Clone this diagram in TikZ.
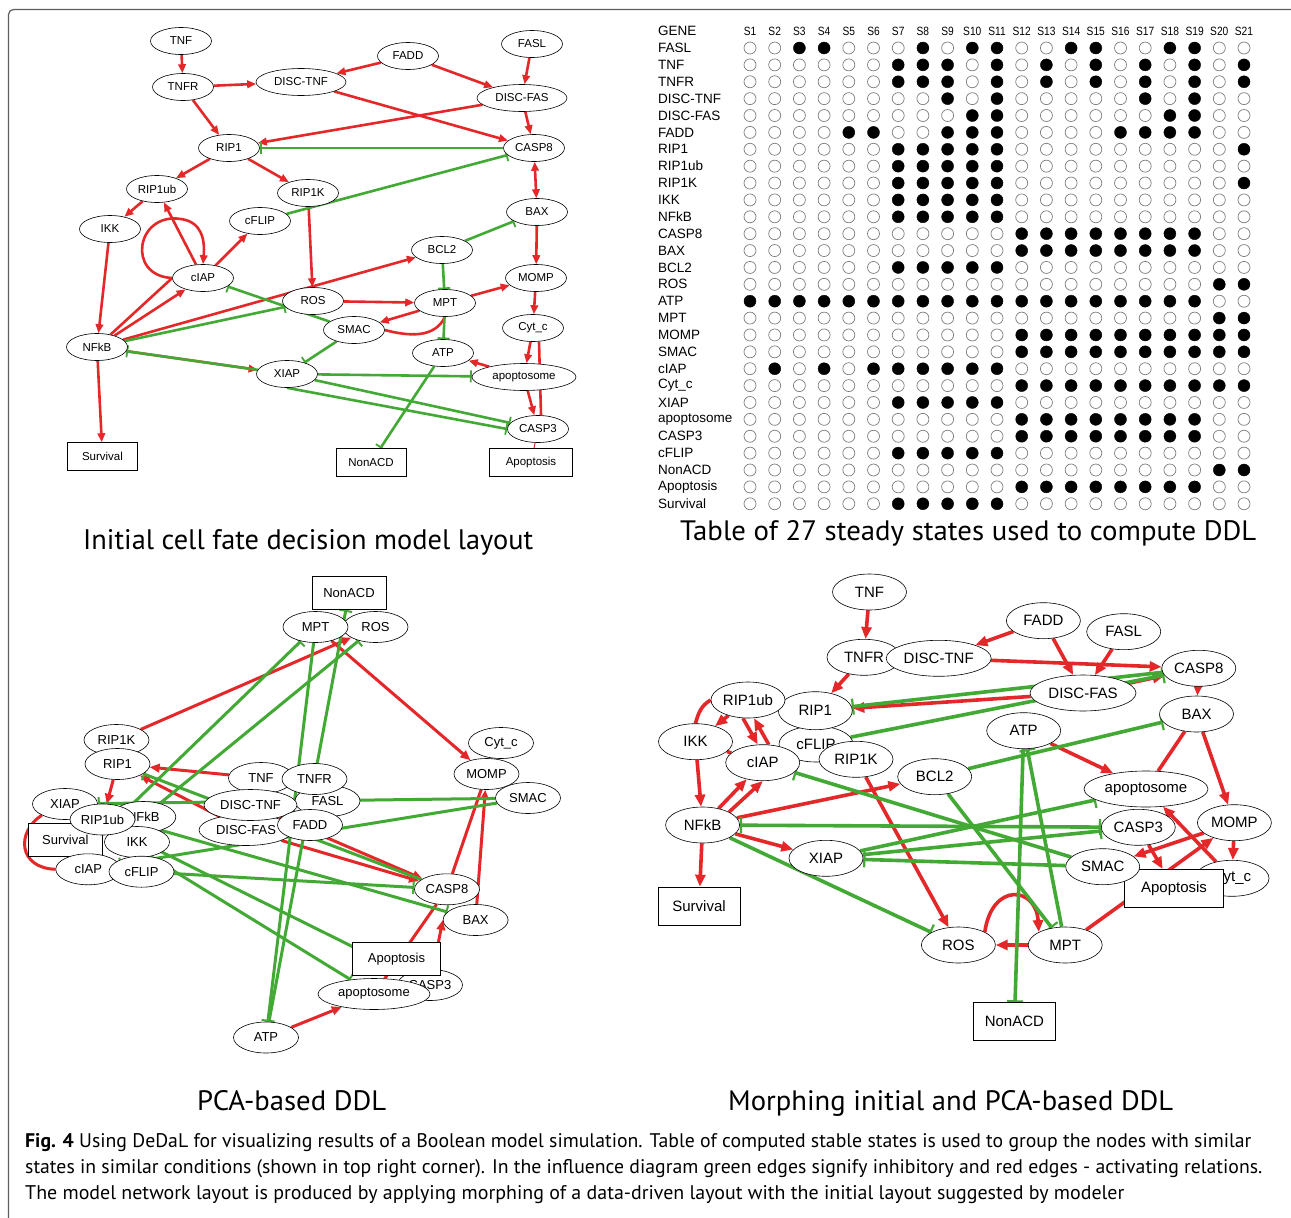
\documentclass[tikz,border=0pt]{standalone}
\usepackage{fontspec}
\usepackage{graphicx}
\setsansfont{Liberation Sans}
\newfontfamily\capfont{PT Sans}
\newfontfamily\tabfont{Liberation Sans}
\newfontfamily\hdfont[FakeStretch=0.85]{Liberation Sans}
\usetikzlibrary{arrows.meta,shapes.geometric}
\definecolor{actred}{RGB}{228,40,42}
\definecolor{inhgreen}{RGB}{66,170,52}
\definecolor{framegray}{RGB}{95,95,95}
\definecolor{dotgray}{RGB}{125,125,125}
\pgfdeclarelayer{bg}
\pgfsetlayers{bg,main}
\tikzset{
  ga/.style={ellipse,draw,fill=white,inner sep=0pt,line width=.6pt,minimum width=61pt,minimum height=27pt,font=\sffamily\fontsize{11.5}{12}\selectfont},
  gb/.style={ga,minimum width=65pt,minimum height=31pt,font=\sffamily\fontsize{13}{14}\selectfont},
  gc/.style={ga,minimum width=74pt,minimum height=36pt,font=\sffamily\fontsize{15}{16}\selectfont},
  boxa/.style={rectangle,draw,fill=white,inner sep=0pt,line width=.6pt,minimum width=70pt,minimum height=28pt,font=\sffamily\fontsize{11.5}{12}\selectfont},
  boxb/.style={boxa,minimum height=33pt,font=\sffamily\fontsize{13}{14}\selectfont},
  boxc/.style={boxa,minimum height=38pt,font=\sffamily\fontsize{15}{16}\selectfont},
  act/.style={draw=actred,line width=2.6pt,-{Triangle[length=9pt,width=7.5pt]}},
  actb/.style={draw=actred,line width=3pt,-{Triangle[length=10pt,width=8.5pt]}},
  actc/.style={draw=actred,line width=3.6pt,-{Triangle[length=12pt,width=10pt]}},
  inh/.style={draw=inhgreen,line width=2.6pt,-{Bar[width=12pt,line width=1.8pt]}},
  inhb/.style={draw=inhgreen,line width=3pt,-{Bar[width=13pt,line width=2pt]}},
  inhc/.style={draw=inhgreen,line width=3.6pt,-{Bar[width=16pt,line width=2.2pt]}},
  redp/.style={draw=actred},
  hd/.style={inner sep=0pt,font=\hdfont\fontsize{12}{12}\selectfont},
  lab/.style={anchor=west,inner sep=0pt,font=\tabfont\fontsize{13.5}{14}\selectfont},
  dot0/.style={draw=dotgray,line width=.7pt},
  dot1/.style={fill=black},
  ttl/.style={anchor=base west,inner sep=0pt}
}
\begin{document}
\begin{tikzpicture}[x=1pt,y=-1pt]
\useasboundingbox (0,0) rectangle (1291,1218);
\begin{pgfonlayer}{bg}
\fill[white] (0,0) rectangle (1291,1218);
\end{pgfonlayer}
\draw[framegray,line width=1.2pt,rounded corners=5pt] (8.5,1218) -- (8.5,9.5) -- (1291,9.5);

% initial layout
\node[ga] (aTNF) at (181,41) {TNF};
\node[ga] (aTNFR) at (183,87) {TNFR};
\node[ga,minimum width=90pt] (aDT) at (301,82) {DISC-TNF};
\node[ga] (aFADD) at (408,56) {FADD};
\node[ga] (aFASL) at (532,44) {FASL};
\node[ga,minimum width=90pt] (aDF) at (522,98) {DISC-FAS};
\node[ga] (aRIP1) at (229,148) {RIP1};
\node[ga] (aCASP8) at (534,148) {CASP8};
\node[ga] (aRIP1ub) at (157,189) {RIP1ub};
\node[ga] (aRIP1K) at (308,193) {RIP1K};
\node[ga] (aCFLIP) at (260,221) {cFLIP};
\node[ga] (aBAX) at (537,212) {BAX};
\node[ga] (aIKK) at (110,229) {IKK};
\node[ga] (aBCL2) at (442,250) {BCL2};
\node[ga] (aCIAP) at (203,278) {cIAP};
\node[ga] (aMOMP) at (536,278) {MOMP};
\node[ga] (aROS) at (313,301) {ROS};
\node[ga] (aMPT) at (445,303) {MPT};
\node[ga] (aSMAC) at (354,330) {SMAC};
\node[ga] (aCytc) at (533,328) {Cyt\_c};
\node[ga] (aNFkB) at (97,347) {NFkB};
\node[ga] (aATP) at (443,353) {ATP};
\node[ga] (aXIAP) at (287,374) {XIAP};
\node[ga,minimum width=104pt] (aApo) at (524,377) {apoptosome};
\node[ga] (aCASP3) at (538,429) {CASP3};
\node[boxa] (aSurv) at (102.5,456.5) {Survival};
\node[boxa] (aNonACD) at (371,462.5) {NonACD};
\node[boxa,minimum width=83pt] (aApopt) at (531,462.5) {Apoptosis};

\begin{pgfonlayer}{bg}
\draw[act] (aTNF) -- (aTNFR);
\draw[act] (aTNFR) -- (aDT);
\draw[act] (aTNFR) -- (aRIP1);
\draw[act] (aFADD) -- (aDT);
\draw[act] (aFADD) -- (aDF);
\draw[act] (aFASL) -- (aDF);
\draw[act] (aDT) -- (aCASP8);
\draw[act] (aDF) -- (aRIP1);
\draw[act] (aDF) -- (aCASP8);
\draw[act] (aRIP1) -- (aRIP1ub);
\draw[act] (aRIP1) -- (aRIP1K);
\draw[act] (aRIP1ub) -- (aIKK);
\draw[act,{Triangle[length=9pt,width=7.5pt]}-{Triangle[length=9pt,width=7.5pt]}] (aCASP8) -- (aBAX);
\draw[act] (aIKK) -- (aNFkB);
\draw[act] (aCIAP) -- (aRIP1ub);
\draw[act] (aCIAP.west) .. controls (126,276) and (136,212) .. (181,219) .. controls (202,222) and (205,240) .. (aCIAP.north);
\draw[act] (aCIAP) -- (aCFLIP);
\draw[act] (aNFkB) -- (aCIAP);
\draw[redp,line width=2.6pt] (aNFkB) -- (aCIAP.west);
\draw[act] (aNFkB) -- (aBCL2);
\draw[act] (aNFkB) -- (aXIAP);
\draw[act] (aNFkB) -- (aSurv);
\draw[act] (aRIP1K) -- (aROS);
\draw[act] (aROS) -- (aMPT);
\draw[act] (aMPT) -- (aSMAC);
\draw[redp,line width=2.6pt] (aSMAC.east) to[out=-15,in=-115] (aMPT.south);
\draw[act] (aMPT) -- (aMOMP);
\draw[act] (aBAX) -- (aMOMP);
\draw[act] (aMOMP) -- (aCytc);
\draw[act] (aCytc) -- (aApo);
\draw[act] (aApo) -- (aCASP3);
\draw[redp,line width=2.6pt] ([xshift=6pt]aCytc.south) -- ([xshift=3pt]aCASP3.north);
\draw[act] (aApo) -- (aATP);
\draw[redp,line width=1pt] (aCASP3) -- (aApopt);
\draw[inh] (aCASP8) -- (aRIP1);
\draw[inh] (aCFLIP) -- (aCASP8);
\draw[inh] (aBCL2) -- (aBAX);
\draw[inh] (aBCL2) -- (aMPT);
\draw[inh] (aMPT) -- (aATP);
\draw[inh] (aNFkB) -- (aROS);
\draw[inh] (aSMAC) -- (aCIAP);
\draw[inh] (aSMAC) -- (aXIAP);
\draw[inh] (aXIAP) -- (aNFkB);
\draw[inh] (aXIAP) -- (aApo);
\draw[inh] (aXIAP) -- (aCASP3);
\draw[inh] (aXIAP.south) -- (aCASP3.west);
\draw[inh] (aATP) -- (aNonACD);
\end{pgfonlayer}

% table of steady states
\node[lab] (gene) at (658,31) {GENE};
\foreach \c in {1,...,21}
  \node[hd] (s\c) at ({750+24.7*(\c-1)},31) {S\c};
\foreach \r/\gname/\bits in {
  1/FASL/{0,0,1,1,0,0,0,1,0,1,1,0,0,1,1,0,0,1,1,0,0},
  2/TNF/{0,0,0,0,0,0,1,1,1,0,1,0,1,0,1,0,1,0,1,0,1},
  3/TNFR/{0,0,0,0,0,0,1,1,1,0,1,0,1,0,1,0,1,0,1,0,1},
  4/DISC-TNF/{0,0,0,0,0,0,0,0,1,0,1,0,0,0,0,0,1,0,1,0,0},
  5/DISC-FAS/{0,0,0,0,0,0,0,0,0,1,1,0,0,0,0,0,0,1,1,0,0},
  6/FADD/{0,0,0,0,1,1,0,0,1,1,1,0,0,0,0,1,1,1,1,0,0},
  7/RIP1/{0,0,0,0,0,0,1,1,1,1,1,0,0,0,0,0,0,0,0,0,1},
  8/RIP1ub/{0,0,0,0,0,0,1,1,1,1,1,0,0,0,0,0,0,0,0,0,0},
  9/RIP1K/{0,0,0,0,0,0,1,1,1,1,1,0,0,0,0,0,0,0,0,0,1},
  10/IKK/{0,0,0,0,0,0,1,1,1,1,1,0,0,0,0,0,0,0,0,0,0},
  11/NFkB/{0,0,0,0,0,0,1,1,1,1,1,0,0,0,0,0,0,0,0,0,0},
  12/CASP8/{0,0,0,0,0,0,0,0,0,0,0,1,1,1,1,1,1,1,1,0,0},
  13/BAX/{0,0,0,0,0,0,0,0,0,0,0,1,1,1,1,1,1,1,1,0,0},
  14/BCL2/{0,0,0,0,0,0,1,1,1,1,1,0,0,0,0,0,0,0,0,0,0},
  15/ROS/{0,0,0,0,0,0,0,0,0,0,0,0,0,0,0,0,0,0,0,1,1},
  16/ATP/{1,1,1,1,1,1,1,1,1,1,1,1,1,1,1,1,1,1,1,0,0},
  17/MPT/{0,0,0,0,0,0,0,0,0,0,0,0,0,0,0,0,0,0,0,1,1},
  18/MOMP/{0,0,0,0,0,0,0,0,0,0,0,1,1,1,1,1,1,1,1,1,1},
  19/SMAC/{0,0,0,0,0,0,0,0,0,0,0,1,1,1,1,1,1,1,1,1,1},
  20/cIAP/{0,1,0,1,0,1,1,1,1,1,1,0,0,0,0,0,0,0,0,0,0},
  21/Cyt\_c/{0,0,0,0,0,0,0,0,0,0,0,1,1,1,1,1,1,1,1,1,1},
  22/XIAP/{0,0,0,0,0,0,1,1,1,1,1,0,0,0,0,0,0,0,0,0,0},
  23/apoptosome/{0,0,0,0,0,0,0,0,0,0,0,1,1,1,1,1,1,1,1,0,0},
  24/CASP3/{0,0,0,0,0,0,0,0,0,0,0,1,1,1,1,1,1,1,1,0,0},
  25/cFLIP/{0,0,0,0,0,0,1,1,1,1,1,0,0,0,0,0,0,0,0,0,0},
  26/NonACD/{0,0,0,0,0,0,0,0,0,0,0,0,0,0,0,0,0,0,0,1,1},
  27/Apoptosis/{0,0,0,0,0,0,0,0,0,0,0,1,1,1,1,1,1,1,1,0,0},
  28/Survival/{0,0,0,0,0,0,1,1,1,1,1,0,0,0,0,0,0,0,0,0,0}}{
  \node[lab] (l\r) at (658,{48+16.88*(\r-1)}) {\gname};
  \foreach \v [count=\c] in \bits
    \draw[dot\v] ({750+24.7*(\c-1)},{48+16.88*(\r-1)}) circle (6pt);
}

% PCA-based layout
\node[gb] (bRIP1K) at (116.5,740) {RIP1K};
\node[gb] (bRIP1) at (117.5,764) {RIP1};
\node[boxb,minimum width=74pt] (bNonACD) at (349,593) {NonACD};
\node[gb] (bROS) at (375.5,627) {ROS};
\node[gb] (bMPT) at (315.5,627) {MPT};
\node[gb] (bCytc) at (501,743) {Cyt\_c};
\node[gb] (bMOMP) at (486.5,774) {MOMP};
\node[gb] (bSMAC) at (528,798) {SMAC};
\node[gb] (bTNF) at (261,778) {TNF};
\node[gb] (bFASL) at (327.5,801) {FASL};
\node[gb,minimum width=94pt] (bDF) at (246,830) {DISC-FAS};
\node[gb,minimum width=93pt] (bDT) at (250.5,805) {DISC-TNF};
\node[gb] (bTNFR) at (314.5,779) {TNFR};
\node[gb] (bFADD) at (310,825) {FADD};
\node[gb] (bXIAP) at (65,804) {XIAP};
\node[gb] (bNFkB) at (143.3,817) {NFkB};
\node[gb] (bIKK) at (137,842) {IKK};
\node[boxb,minimum width=74pt] (bSurv) at (65.3,839.7) {Survival};
\node[gb] (bRIP1ub) at (102.5,819.5) {RIP1ub};
\node[gb] (bCIAP) at (88.3,869.3) {cIAP};
\node[gb] (bCFLIP) at (141.5,871.7) {cFLIP};
\node[gb] (bCASP8) at (447,889.3) {CASP8};
\node[gb] (bBAX) at (475.6,920) {BAX};
\node[gb] (bCASP3) at (430,985) {CASP3};
\node[boxb,minimum width=88pt] (bApopt) at (396.5,959) {Apoptosis};
\node[gb,minimum width=112pt] (bApo) at (374,994) {apoptosome};
\node[gb] (bATP) at (266,1037.5) {ATP};
\coordinate (bBCL2) at (118,818);

\begin{pgfonlayer}{bg}
\draw[actb] (bRIP1K) -- (bROS);
\draw[actb] (bMPT) -- (bMOMP);
\draw[actb] (bTNF) -- (bRIP1);
\draw[actb] (bDF) -- (bRIP1);
\draw[actb] (bRIP1) -- (bRIP1ub);
\draw[actb] (bDF) -- (bCASP8);
\draw[actb] (bDT) -- (bCASP8);
\draw[redp,line width=3pt] (bCASP8) -- (bMOMP);
\draw[actb] (bBAX) -- (bMOMP);
\draw[redp,line width=3pt] (bApo) -- (bCASP8);
\draw[actb] (bCASP3) -- (bBAX.west);
\draw[actb] (bATP) -- (bApo);
\draw[redp,line width=3pt] (bXIAP.south west) .. controls (16,832) and (18,868) .. (bCIAP.west);
\draw[inhb] (bMPT) -- (bATP);
\draw[inhb] (bATP) -- (bNonACD);
\draw[inhb] (bBCL2) -- (bMPT);
\draw[inhb] (bNFkB) -- (bROS);
\draw[inhb] (bCASP8) -- (bRIP1);
\draw[inhb] (bSMAC) -- (bXIAP);
\draw[inhb] (bSMAC) -- (bCIAP);
\draw[inhb] (bCFLIP) -- (bCASP8);
\draw[inhb] (bXIAP) -- (bApo);
\draw[inhb] (bXIAP) -- (bCASP3);
\draw[inhb] (bBCL2) -- (bBAX);
\draw[inhb] (bXIAP) -- (bNFkB);
\end{pgfonlayer}

% morphing of both layouts
\node[gc] (cTNF) at (869.5,592) {TNF};
\node[gc] (cFADD) at (1043.4,620.7) {FADD};
\node[gc] (cFASL) at (1123.7,631.7) {FASL};
\node[gc] (cTNFR) at (864,657.3) {TNFR};
\node[gc,minimum width=105pt] (cDT) at (938.7,658.3) {DISC-TNF};
\node[gc] (cCASP8) at (1198.8,668.3) {CASP8};
\node[gc,minimum width=106pt] (cDF) at (1083,693) {DISC-FAS};
\node[gc] (cBAX) at (1196.5,714) {BAX};
\node[gc] (cATP) at (1023.7,730.7) {ATP};
\node[gc] (cCFLIP) at (816,744) {cFLIP};
\node[gc,minimum height=38pt] (cRIP1) at (815.3,710.7) {RIP1};
\node[gc] (cRIP1ub) at (748,700) {RIP1ub};
\node[gc] (cIKK) at (695.5,741.7) {IKK};
\node[gc] (cCIAP) at (762.7,762.7) {cIAP};
\node[gc] (cRIP1K) at (856,759.3) {RIP1K};
\node[gc] (cBCL2) at (934.7,776.7) {BCL2};
\node[gc,minimum width=124pt] (cApo) at (1146,789) {apoptosome};
\node[gc] (cNFkB) at (702.6,825) {NFkB};
\node[gc] (cCASP3) at (1138.3,827.3) {CASP3};
\node[gc] (cMOMP) at (1234.4,822.7) {MOMP};
\node[gc] (cXIAP) at (826,858.3) {XIAP};
\node[gc] (cCytc) at (1232,878.3) {Cyt\_c};
\node[boxc,minimum width=99pt] (cApopt) at (1174,888.3) {Apoptosis};
\node[gc] (cSMAC) at (1102.7,866.7) {SMAC};
\node[boxc,minimum width=82pt] (cSurv) at (699,906) {Survival};
\node[gc] (cROS) at (958.4,945) {ROS};
\node[gc] (cMPT) at (1065.2,945) {MPT};
\node[boxc,minimum width=82pt] (cNonACD) at (1014.4,1021.7) {NonACD};

\begin{pgfonlayer}{bg}
\draw[actc] (cTNF) -- (cTNFR);
\draw[actc] (cFADD) -- (cDT);
\draw[actc] (cFADD) -- (cDF);
\draw[actc] (cFASL) -- (cDF);
\draw[actc] (cDT) -- (cCASP8);
\draw[actc] (cDF) -- (cCASP8);
\draw[actc] (cDF) -- (cRIP1);
\draw[actc] (cTNFR) -- (cRIP1);
\draw[actc] (cRIP1ub) -- (cIKK);
\draw[redp,line width=3.6pt] (cRIP1ub.west) to[out=210,in=75] (cIKK.north);
\draw[actc] ([xshift=-5pt]cRIP1ub.south) -- ([xshift=-5pt]cCIAP.north);
\draw[actc] ([xshift=6pt]cCIAP.north) -- ([xshift=6pt]cRIP1ub.south);
\draw[redp,line width=3.6pt] (cIKK) -- (cCIAP);
\draw[actc] (cIKK) -- (cNFkB);
\draw[actc] (cNFkB) -- (cCIAP);
\draw[actc] (cNFkB.north east) -- (cCIAP.south);
\draw[actc] (cNFkB) -- (cBCL2);
\draw[actc] (cNFkB) -- (cXIAP);
\draw[actc] (cNFkB) -- (cSurv);
\draw[actc] (cRIP1K) -- (cROS);
\draw[actc] (cROS.north east) .. controls (992,882) and (1036,886) .. (cMPT.north west);
\draw[actc] (cMPT) -- (cROS);
\draw[actc] (cMPT) -- (cMOMP);
\draw[actc] (cATP) -- (cApo);
\draw[actc] (cBAX) -- (cMOMP);
\draw[redp,line width=3.6pt] (cBAX) -- (cApo);
\draw[actc] (cCASP8) -- (cBAX);
\draw[actc] (cMOMP) -- (cSMAC);
\draw[actc] (cMOMP) -- (cCytc);
\draw[actc] (cCytc) -- (cApo);
\draw[actc] (cCASP3) -- (cApopt);
\draw[inhc] (cCASP8) -- (cRIP1);
\draw[inhc] (cCFLIP) -- (cCASP8);
\draw[inhc] (cBCL2) -- (cBAX);
\draw[inhc] (cBCL2) -- (cMPT);
\draw[inhc] (cMPT) -- (cATP);
\draw[inhc] (cATP) -- (cNonACD);
\draw[inhc] (cSMAC) -- (cCIAP);
\draw[inhc] (cSMAC) -- (cXIAP);
\draw[inhc] (cXIAP) -- (cApo);
\draw[inhc] (cXIAP) -- (cCASP3);
\draw[inhc,{Bar[width=16pt,line width=2.2pt]}-{Bar[width=16pt,line width=2.2pt]}] (cNFkB) -- (cCASP3);
\draw[inhc] (cNFkB) -- (cROS);
\end{pgfonlayer}

% titles and caption
\node[ttl] (t1) at (83,549) {\resizebox{450pt}{20pt}{\capfont Initial cell fate decision model layout}};
\node[ttl] (t2) at (680,540) {\resizebox{576pt}{20pt}{\capfont Table of 27 steady states used to compute DDL}};
\node[ttl] (t3) at (197,1110) {\resizebox{189pt}{20pt}{\capfont PCA-based DDL}};
\node[ttl] (t4) at (728,1110) {\resizebox{445pt}{20pt}{\capfont Morphing initial and PCA-based DDL}};
\node[ttl] (cap1) at (25,1147) {\resizebox{1226pt}{14pt}{\capfont\textbf{Fig. 4} Using DeDaL for visualizing results of a Boolean model simulation. Table of computed stable states is used to group the nodes with similar}};
\node[ttl] (cap2) at (25,1173) {\resizebox{1237pt}{14pt}{\capfont states in similar conditions (shown in top right corner). In the influence diagram green edges signify inhibitory and red edges - activating relations.}};
\node[ttl] (cap3) at (25,1199) {\resizebox{1099pt}{14pt}{\capfont The model network layout is produced by applying morphing of a data-driven layout with the initial layout suggested by modeler}};
\end{tikzpicture}
\end{document}
